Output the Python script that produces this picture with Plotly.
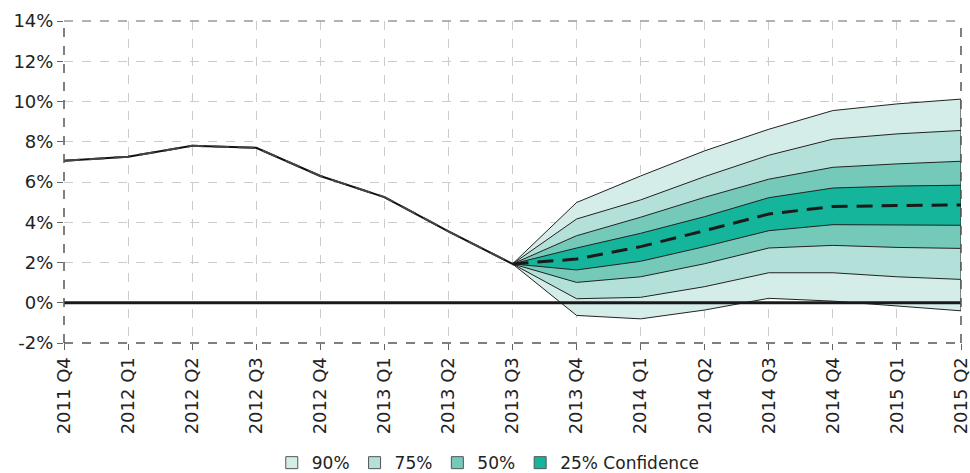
import plotly.graph_objects as go

categories = ["2011 Q4", "2012 Q1", "2012 Q2", "2012 Q3", "2012 Q4", "2013 Q1", "2013 Q2", "2013 Q3",
              "2013 Q4", "2014 Q1", "2014 Q2", "2014 Q3", "2014 Q4", "2015 Q1", "2015 Q2"]

history = [7.05, 7.26, 7.8, 7.7, 6.3, 5.25, 3.55, 1.93]

fc_x = categories[7:]
central = [1.93, 2.17, 2.79, 3.58, 4.41, 4.78, 4.83, 4.86]
up90 = [1.93, 4.98, 6.30, 7.55, 8.62, 9.55, 9.88, 10.12]
up75 = [1.93, 4.16, 5.11, 6.27, 7.33, 8.13, 8.39, 8.56]
up50 = [1.93, 3.33, 4.25, 5.24, 6.14, 6.73, 6.90, 7.03]
up25 = [1.93, 2.72, 3.45, 4.28, 5.22, 5.70, 5.80, 5.84]
lo25 = [1.93, 1.63, 2.06, 2.79, 3.58, 3.88, 3.85, 3.85]
lo50 = [1.93, 1.01, 1.29, 1.94, 2.72, 2.85, 2.75, 2.70]
lo75 = [1.93, 0.20, 0.27, 0.80, 1.49, 1.49, 1.29, 1.16]
lo90 = [1.93, -0.63, -0.80, -0.36, 0.22, 0.08, -0.17, -0.40]

bands = [
    ("90%", up90, lo90, "#d4ede9"),
    ("75%", up75, lo75, "#b3e1d9"),
    ("50%", up50, lo50, "#74c9b9"),
    ("25% Confidence", up25, lo25, "#14b59b"),
]

y_ticks = list(range(-2, 15, 2))
y_labels = [f"{v}%" for v in y_ticks]

FONT = "'DejaVu Sans', sans-serif"

fig = go.Figure()

for name, up, lo, col in bands:
    fig.add_trace(go.Scatter(
        x=fc_x + fc_x[::-1], y=up + lo[::-1],
        fill="toself", fillcolor=col, mode="lines",
        line=dict(color="#222222", width=1),
        name=name, hoverinfo="skip", showlegend=False,
    ))

# legend entries (square swatches)
for name, up, lo, col in bands:
    fig.add_trace(go.Scatter(
        x=[None], y=[None], mode="markers", name=name,
        marker=dict(symbol="square", size=12, color=col, line=dict(color="#555555", width=1)),
        showlegend=True,
    ))

fig.add_trace(go.Scatter(x=categories[:8], y=history, mode="lines",
                         line=dict(color="#111111", width=2), showlegend=False))
fig.add_trace(go.Scatter(x=categories[:8], y=history, mode="lines",
                         line=dict(color="#444444", width=2, dash="16px,9px"), showlegend=False))
fig.add_trace(go.Scatter(x=fc_x, y=central, mode="lines",
                         line=dict(color="#1a1a1a", width=3, dash="16px,9px"), showlegend=False))

shapes = [
    dict(type="line", xref="paper", yref="y", x0=0, x1=1, y0=0, y1=0,
         line=dict(color="#1a1a1a", width=3), layer="above"),
    dict(type="line", xref="paper", yref="paper", x0=0, x1=0, y0=0, y1=1,
         line=dict(color="#555555", width=1.5, dash="dash"), layer="above"),
    dict(type="line", xref="paper", yref="paper", x0=1, x1=1, y0=0, y1=1,
         line=dict(color="#555555", width=1.5, dash="dash"), layer="above"),
    dict(type="line", xref="paper", yref="paper", x0=0, x1=1, y0=0, y1=0,
         line=dict(color="#555555", width=1.5, dash="dash"), layer="above"),
    dict(type="line", xref="paper", yref="paper", x0=0, x1=1, y0=1, y1=1,
         line=dict(color="#999999", width=1.5, dash="dash"), layer="above"),
]

fig.update_layout(
    width=970, height=473,
    margin=dict(l=64, r=9, t=21, b=130, autoexpand=False),
    paper_bgcolor="white", plot_bgcolor="white",
    font=dict(family=FONT, size=18, color="#222222"),
    showlegend=True,
    legend=dict(orientation="h", x=0.473, xanchor="center", y=-0.373, yanchor="middle",
                font=dict(size=17, color="#222222"), traceorder="normal",
                itemwidth=30, tracegroupgap=0, borderwidth=0),
    shapes=shapes,
)
fig.update_xaxes(
    type="category", categoryorder="array", categoryarray=categories,
    range=[0, len(categories) - 1], automargin=False,
    tickangle=-90, showgrid=True, gridcolor="#cccccc", griddash="dash", gridwidth=1,
    ticks="outside", ticklen=6, tickcolor="#666666",
    showline=False, zeroline=False,
    tickfont=dict(size=18, color="#222222"),
)
fig.update_yaxes(
    range=[-2, 14], tickvals=y_ticks, ticktext=y_labels, automargin=False,
    showgrid=True, gridcolor="#cccccc", griddash="dash", gridwidth=1,
    ticks="outside", ticklen=6, tickcolor="#666666",
    showline=False, zeroline=False,
    tickfont=dict(size=18, color="#222222"),
)

fig.write_html("out.html")
